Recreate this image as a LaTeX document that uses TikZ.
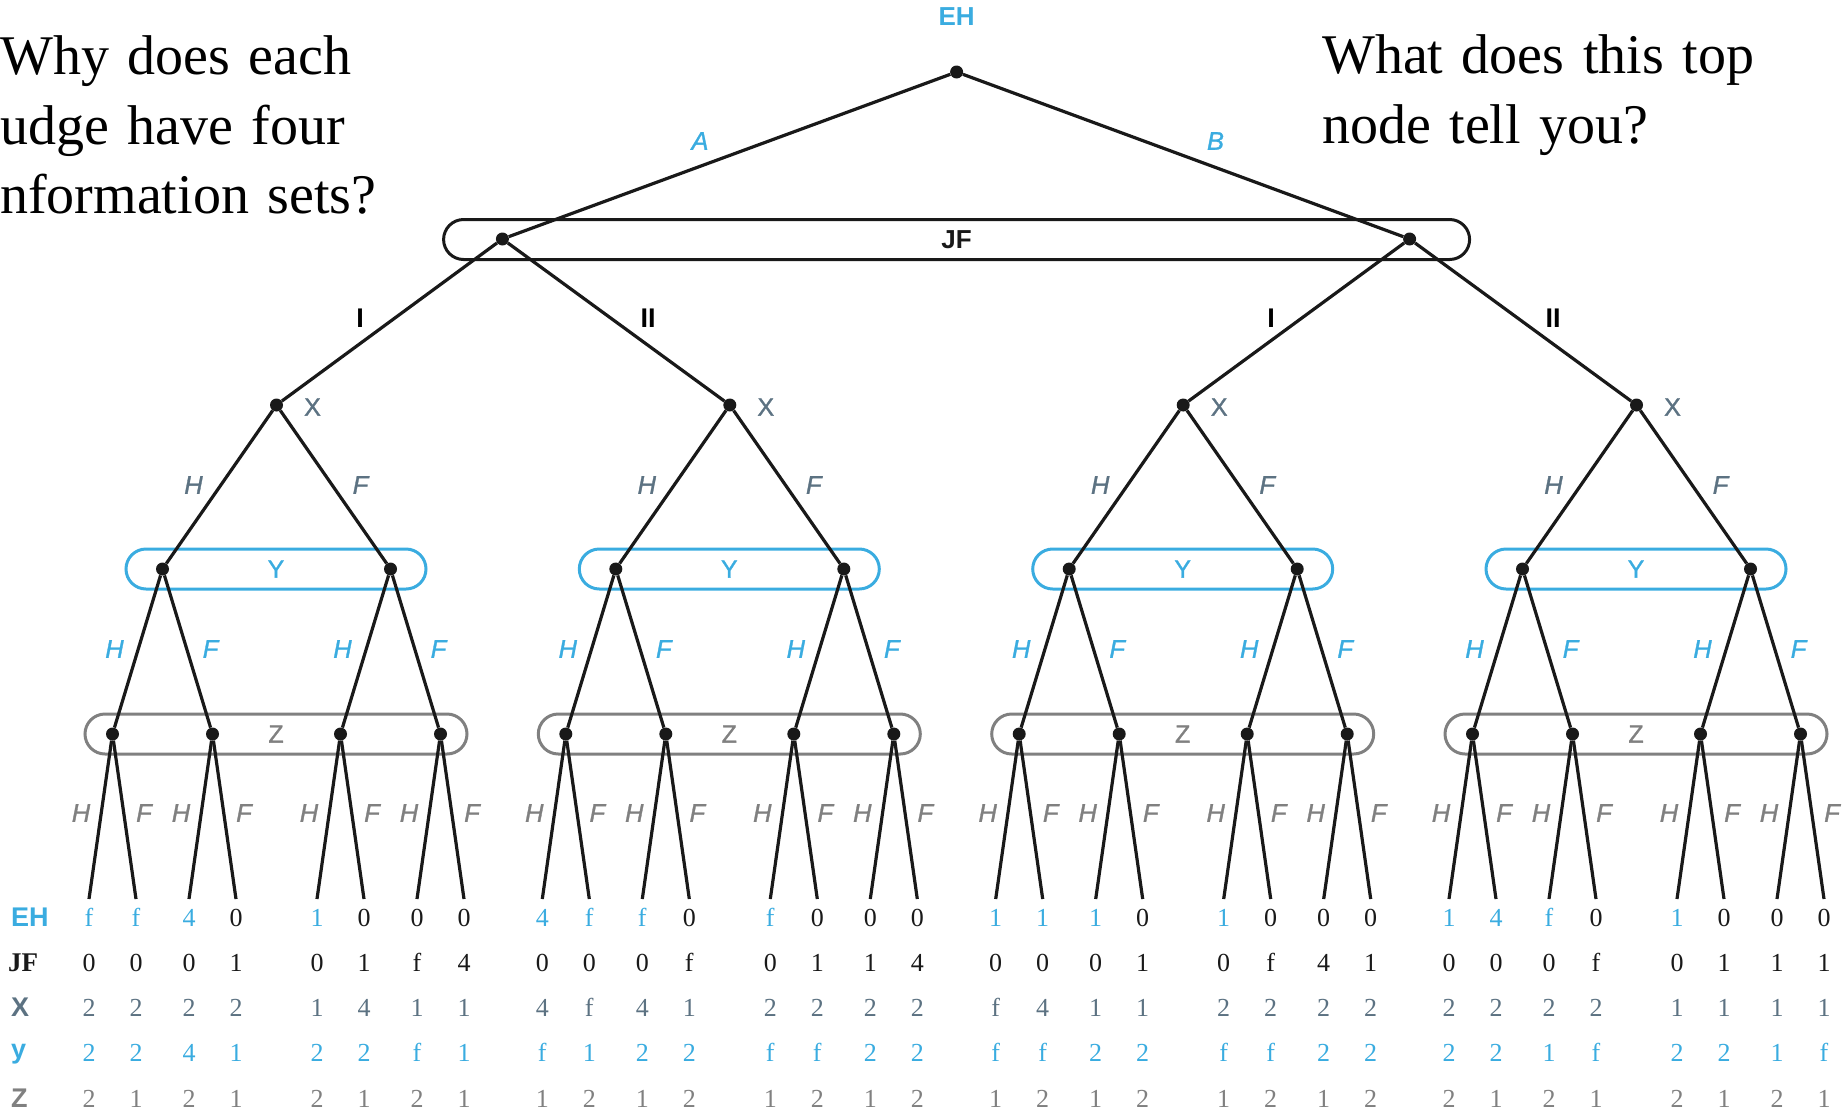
\documentclass[tikz,border=0pt]{standalone}
\usepackage{fontspec}
\setmainfont{Liberation Serif}
\setsansfont{Liberation Sans}
\newfontfamily\medsans[FakeBold=1.2]{Liberation Sans}
\definecolor{ehblue}{RGB}{58,172,224}
\definecolor{slate}{RGB}{92,114,130}
\definecolor{zgray}{RGB}{128,128,128}
\definecolor{ink}{RGB}{25,25,25}
\newcommand\qfont{\fontsize{56}{56}\selectfont\spaceskip=0.33em plus 0.1em\relax}
\tikzset{
  branch/.style={draw=ink,line width=3.2pt},
  gnode/.style={circle,fill=ink,inner sep=0pt,minimum size=13pt},
  infoset/.style={draw=#1,text=#1,line width=3pt,rounded corners=20pt,minimum height=40pt,inner sep=0pt,font=\medsans\fontsize{25}{25}\selectfont},
  lab/.style={inner sep=0pt,font=\medsans\fontsize{25}{25}\selectfont},
  itlab/.style={inner sep=0pt,font=\medsans\itshape\fontsize{25.5}{25.5}\selectfont},
  bdlab/.style={inner sep=0pt,font=\sffamily\bfseries\fontsize{27}{27}\selectfont},
  qtext/.style={anchor=base west,inner sep=0pt,font=\qfont},
  pay/.style={anchor=base,inner sep=0pt,font=\fontsize{26}{26}\selectfont},
  rowlab/.style={anchor=base west,inner sep=0pt,font=\sffamily\bfseries\fontsize{27}{27}\selectfont}
}
\def\zerostr{0}
\begin{document}
\begin{tikzpicture}[x=1pt,y=-1pt]
\useasboundingbox (0,0) rectangle (1845,1117);

% questions
\node[qtext] (q1) at (0,74) {Why does each};
\node[qtext] (q2) at (0,144) {udge have four};
\node[qtext] (q3) at (0,213) {nformation sets?};
\node[qtext] (q4) at (1322,73) {What does this top};
\node[qtext] (q5) at (1322,143) {node tell you?};

% top
\node[infoset=ink,minimum width=1026pt,font=\sffamily\bfseries\fontsize{26}{26}\selectfont] (jfbox) at (956.6,239.5) {JF};
\node[gnode] (root) at (956.6,72) {};
\node[lab,text=ehblue,font=\sffamily\bfseries\fontsize{26}{26}\selectfont] (ehlab) at (956.6,16.5) {EH};
\node[gnode] (jf1) at (502.4,239) {};
\node[gnode] (jf2) at (1409.6,239) {};
\draw[branch] (root) -- (jf1);
\draw[branch] (root) -- (jf2);
\node[itlab,text=ehblue] (labA) at (700,141) {A};
\node[itlab,text=ehblue] (labB) at (1215.5,141) {B};

% subtrees
\foreach \k/\c in {1/276.5,2/729.8,3/1183.2,4/1636.5}{
  \node[infoset=ehblue,minimum width=300pt] (ybox\k) at (\c-0.5,569) {Y};
  \node[infoset=zgray,minimum width=382pt] (zbox\k) at (\c-0.5,734) {Z};
  \node[gnode] (x\k) at (\c,405) {};
  \node[lab,text=slate] (xl\k) at (\c+36,407) {X};
  \node[gnode] (ya\k) at (\c-114,569) {};
  \node[gnode] (yb\k) at (\c+114,569) {};
  \draw[branch] (x\k) -- (ya\k);
  \draw[branch] (x\k) -- (yb\k);
  \node[itlab,text=slate] (xh\k) at (\c-83,485) {H};
  \node[itlab,text=slate] (xf\k) at (\c+84,485) {F};
  \foreach \m/\zo in {1/-164,2/-64,3/64,4/164}{
    \node[gnode] (z\k\m) at (\c+\zo,734) {};
    \pgfmathtruncatemacro\na{(\k-1)*8+2*\m-1}
    \pgfmathtruncatemacro\nb{(\k-1)*8+2*\m}
    \coordinate (l\na) at (\c+\zo-23.5,899);
    \coordinate (l\nb) at (\c+\zo+23.5,899);
    \draw[branch] (z\k\m) -- (l\na);
    \draw[branch] (z\k\m) -- (l\nb);
    \node[itlab,text=zgray] (zh\k\m) at (\c+\zo-31.5,813) {H};
    \node[itlab,text=zgray] (zf\k\m) at (\c+\zo+31.5,813) {F};
  }
  \draw[branch] (ya\k) -- (z\k1);
  \draw[branch] (ya\k) -- (z\k2);
  \draw[branch] (yb\k) -- (z\k3);
  \draw[branch] (yb\k) -- (z\k4);
  \node[itlab,text=ehblue] (yh\k a) at (\c-162,649) {H};
  \node[itlab,text=ehblue] (yf\k a) at (\c-66,649) {F};
  \node[itlab,text=ehblue] (yh\k b) at (\c+66,649) {H};
  \node[itlab,text=ehblue] (yf\k b) at (\c+162,649) {F};
}

\draw[branch] (jf1) -- (x1);
\draw[branch] (jf1) -- (x2);
\draw[branch] (jf2) -- (x3);
\draw[branch] (jf2) -- (x4);
\node[bdlab] (i1) at (360,318) {I};
\node[bdlab] (ii1) at (648,318) {II};
\node[bdlab] (i2) at (1271,318) {I};
\node[bdlab] (ii2) at (1553,318) {II};

% payoff rows
\coordinate (r1) at (0,926.5);
\coordinate (r2) at (0,971.5);
\coordinate (r3) at (0,1016.5);
\coordinate (r4) at (0,1061.5);
\coordinate (r5) at (0,1107);
\node[rowlab,text=ehblue] (rl1) at (11,926.5) {EH};
\node[rowlab,text=ink,font=\rmfamily\bfseries\fontsize{27}{27}\selectfont] (rl2) at (8,971.5) {JF};
\node[rowlab,text=slate] (rl3) at (11,1016.5) {X};
\node[rowlab,text=ehblue] (rl4) at (11,1058) {y};
\node[rowlab,text=zgray] (rl5) at (11,1107) {Z};

\foreach \v [count=\i] in {f,f,4,0,1,0,0,0,4,f,f,0,f,0,0,0,1,1,1,0,1,0,0,0,1,4,f,0,1,0,0,0}{
  \ifx\v\zerostr\def\pc{ink}\else\def\pc{ehblue}\fi
  \node[pay,text=\pc] (pa\i) at (l\i |- r1) {\v};
}
\foreach \v [count=\i] in {0,0,0,1,0,1,f,4,0,0,0,f,0,1,1,4,0,0,0,1,0,f,4,1,0,0,0,f,0,1,1,1}{
  \node[pay,text=ink] (pb\i) at (l\i |- r2) {\v};
}
\foreach \v [count=\i] in {2,2,2,2,1,4,1,1,4,f,4,1,2,2,2,2,f,4,1,1,2,2,2,2,2,2,2,2,1,1,1,1}{
  \node[pay,text=slate] (pc\i) at (l\i |- r3) {\v};
}
\foreach \v [count=\i] in {2,2,4,1,2,2,f,1,f,1,2,2,f,f,2,2,f,f,2,2,f,f,2,2,2,2,1,f,2,2,1,f}{
  \node[pay,text=ehblue] (pd\i) at (l\i |- r4) {\v};
}
\foreach \v [count=\i] in {2,1,2,1,2,1,2,1,1,2,1,2,1,2,1,2,1,2,1,2,1,2,1,2,2,1,2,1,2,1,2,1}{
  \node[pay,text=zgray] (pe\i) at (l\i |- r5) {\v};
}
\end{tikzpicture}
\end{document}
